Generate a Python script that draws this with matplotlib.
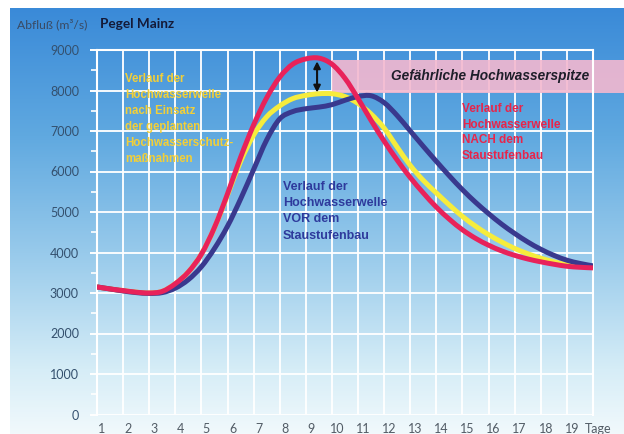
import numpy as np
import matplotlib
matplotlib.use("Agg")
import matplotlib.pyplot as plt
from matplotlib.colors import LinearSegmentedColormap
from matplotlib.transforms import ScaledTranslation
from matplotlib.path import Path
from matplotlib.patches import PathPatch

# days (half-day steps) and discharge in m3/s
days = [1, 1.5, 2, 2.5, 3, 3.5, 4, 4.5, 5, 5.5, 6, 6.5, 7, 7.5, 8, 8.5, 9, 9.5, 10,
        10.5, 11, 11.5, 12, 12.5, 13, 13.5, 14, 14.5, 15, 15.5, 16, 16.5, 17, 17.5,
        18, 18.5, 19, 19.5, 20]

nach = [3150, 3100, 3060, 3020, 3000, 3040, 3230, 3520, 3960, 4620, 5450, 6350, 7150,
        7820, 8330, 8650, 8780, 8800, 8650, 8300, 7800, 7260, 6750, 6280, 5850, 5470,
        5120, 4820, 4560, 4350, 4180, 4040, 3930, 3840, 3770, 3710, 3660, 3635, 3620]

geplant = [3150, 3100, 3060, 3020, 3000, 3040, 3230, 3520, 3960, 4610, 5420, 6250, 6900,
           7350, 7620, 7800, 7880, 7920, 7920, 7850, 7680, 7420, 7070, 6600, 6150, 5780,
           5470, 5170, 4890, 4650, 4440, 4260, 4100, 3970, 3860, 3770, 3700, 3660, 3630]

vor = [3150, 3100, 3050, 3010, 2990, 3010, 3120, 3330, 3650, 4100, 4650, 5320, 6050,
       6780, 7300, 7480, 7550, 7590, 7650, 7760, 7850, 7870, 7700, 7380, 7000, 6620,
       6250, 5890, 5550, 5240, 4960, 4700, 4470, 4260, 4080, 3930, 3810, 3730, 3670]

day_ticks = list(range(1, 21))
day_labels = [str(d) for d in range(1, 20)] + ["Tage"]
y_ticks = list(range(0, 9001, 1000))

band_low, band_high = 7950, 8750
band_start = 10


def smooth_path(xs, ys):
    # Catmull-Rom through the points, drawn as cubic Bezier segments
    p = np.column_stack([xs, ys]).astype(float)
    ext = np.vstack([p[0], p, p[-1]])
    verts = [p[0]]
    codes = [Path.MOVETO]
    for i in range(1, len(ext) - 2):
        c1 = ext[i] + (ext[i + 1] - ext[i - 1]) / 6
        c2 = ext[i + 1] - (ext[i + 2] - ext[i]) / 6
        verts += [c1, c2, ext[i + 1]]
        codes += [Path.CURVE4] * 3
    return Path(verts, codes)


fig = plt.figure(figsize=(6.24, 4.34), dpi=100)

# gradient background (white margin at top/left)
bg = fig.add_axes([10 / 624, 0, 1 - 10 / 624, 1 - 8 / 434], zorder=-5)
cmap = LinearSegmentedColormap.from_list(
    "sky", [(0, "#3a8ad8"), (0.3, "#60a9e0"), (0.6, "#9dcdec"), (0.85, "#d6edf7"), (1, "#f1f9fc")])
grad = np.linspace(0, 1, 256).reshape(-1, 1)
bg.imshow(grad, aspect="auto", cmap=cmap, extent=[0, 1, 0, 1])
bg.axis("off")

ax = fig.add_axes([97 / 624, 1 - 414.5 / 434, (593 - 97) / 624, (414.5 - 50) / 434])
ax.set_facecolor("none")
ax.set_xlim(1, 20)
ax.set_ylim(0, 9000)

ax.set_xticks(day_ticks)
ax.set_xticklabels(day_labels)
ax.set_yticks(y_ticks)
ax.set_yticks(range(500, 9000, 1000), minor=True)
ax.grid(True, color="white", lw=1.4, alpha=0.95)
ax.set_axisbelow(True)
for s in ["top", "right", "left"]:
    ax.spines[s].set_color("white")
    ax.spines[s].set_linewidth(1.5)
ax.spines["bottom"].set_visible(False)

ax.tick_params(axis="x", length=0, pad=6, labelsize=9, labelcolor="#525c66")
ax.tick_params(axis="y", which="major", length=5, width=1.4, color="white", pad=8,
               labelsize=9, labelcolor="#34506e")
ax.tick_params(axis="y", which="minor", length=4, width=1.2, color="white")
for lab in ax.get_xticklabels():
    lab.set_transform(lab.get_transform() + ScaledTranslation(5 / 100, 0, fig.dpi_scale_trans))
for lab in ax.get_xticklabels() + ax.get_yticklabels():
    lab.set_fontfamily("Lato")

# dangerous peak band
ax.fill_between([band_start, 21.3], band_low, band_high, color="#f4b8cf", alpha=0.9,
                lw=0, zorder=1, clip_on=False)
ax.text(16.06, 8370, "Gefährliche Hochwasserspitze", fontsize=9.8, fontweight="bold",
        fontstyle="italic", family="Liberation Sans", color="#1e1e2a",
        ha="center", va="center", zorder=2)

# curves
for vals, col, z in [(geplant, "#f6ec3c", 3), (vor, "#39398e", 4), (nach, "#e8225a", 5)]:
    ax.add_patch(PathPatch(smooth_path(days, vals), facecolor="none", edgecolor=col,
                           lw=3.6, capstyle="butt", joinstyle="round", zorder=z))

# double arrow
ax.annotate("", xy=(9.43, 7950), xytext=(9.43, 8720),
            arrowprops=dict(arrowstyle="<|-|>", color="#111111", lw=1.5,
                            mutation_scale=10, shrinkA=0, shrinkB=0), zorder=6)

txt = dict(fontweight="bold", family="Liberation Sans", va="top", ha="left")
ax.text(2.07, 8420, "Verlauf der\nHochwasserwelle\nnach Einsatz\nder geplanten\n"
        "Hochwasserschutz-\nmaßnahmen", color="#f2cf38", fontsize=8.3,
        linespacing=1.44, **txt)
ax.text(8.13, 5770, "Verlauf der\nHochwasserwelle\nVOR dem\nStaustufenbau",
        color="#2e3a9c", fontsize=9, linespacing=1.48, **txt)
ax.text(14.98, 7690, "Verlauf der\nHochwasserwelle\nNACH dem\nStaustufenbau",
        color="#e8244a", fontsize=8.5, linespacing=1.39, **txt)

fig.text(17 / 624, 1 - 24 / 434, "Abfluß (m³/s)", fontsize=8.7, family="Lato",
         color="#3a4a62", va="center", ha="left")
fig.text(100 / 624, 1 - 24 / 434, "Pegel Mainz", fontsize=9.8, fontweight="bold",
         family="Lato", color="#141a38", va="center", ha="left")

fig.savefig("out.png", dpi=100)
